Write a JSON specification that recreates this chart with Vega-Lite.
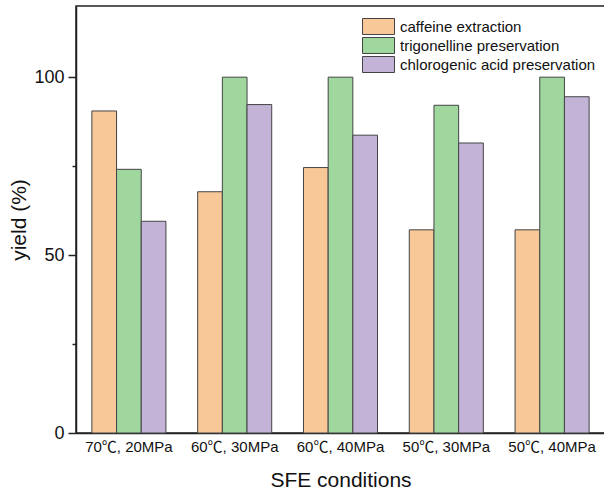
{
  "$schema": "https://vega.github.io/schema/vega-lite/v6.json",
  "width": 529,
  "height": 427,
  "autosize": {"type": "none"},
  "padding": {"left": 76, "top": 6, "right": 0, "bottom": 62},
  "background": "white",
  "config": {
    "font": "Liberation Sans",
    "view": {"stroke": "#222", "strokeWidth": 1.5}
  },
  "data": {
    "values": [
      {"cond": "70℃, 20MPa", "series": "caffeine extraction", "yield": 90.5},
      {"cond": "70℃, 20MPa", "series": "trigonelline preservation", "yield": 74.1},
      {"cond": "70℃, 20MPa", "series": "chlorogenic acid preservation", "yield": 59.5},
      {"cond": "60℃, 30MPa", "series": "caffeine extraction", "yield": 67.8},
      {"cond": "60℃, 30MPa", "series": "trigonelline preservation", "yield": 100},
      {"cond": "60℃, 30MPa", "series": "chlorogenic acid preservation", "yield": 92.3},
      {"cond": "60℃, 40MPa", "series": "caffeine extraction", "yield": 74.6},
      {"cond": "60℃, 40MPa", "series": "trigonelline preservation", "yield": 100},
      {"cond": "60℃, 40MPa", "series": "chlorogenic acid preservation", "yield": 83.7},
      {"cond": "50℃, 30MPa", "series": "caffeine extraction", "yield": 57.1},
      {"cond": "50℃, 30MPa", "series": "trigonelline preservation", "yield": 92.1},
      {"cond": "50℃, 30MPa", "series": "chlorogenic acid preservation", "yield": 81.5},
      {"cond": "50℃, 40MPa", "series": "caffeine extraction", "yield": 57.1},
      {"cond": "50℃, 40MPa", "series": "trigonelline preservation", "yield": 100},
      {"cond": "50℃, 40MPa", "series": "chlorogenic acid preservation", "yield": 94.5}
    ]
  },
  "mark": {"type": "bar", "stroke": "#444", "strokeWidth": 1},
  "encoding": {
    "x": {
      "field": "cond", "type": "nominal", "sort": null,
      "scale": {"paddingInner": 0.3, "paddingOuter": 0.15},
      "axis": {
        "title": "SFE conditions", "titleFontSize": 21, "titleFontWeight": "normal", "titleColor": "#111", "titlePadding": 15,
        "labelAngle": 0, "labelFontSize": 15, "labelFont": "Liberation Sans, Noto Sans CJK SC", "labelColor": "#111", "labelPadding": 6,
        "ticks": false, "domainColor": "#222", "domainWidth": 1.5
      }
    },
    "xOffset": {"field": "series", "type": "nominal", "sort": ["caffeine extraction", "trigonelline preservation", "chlorogenic acid preservation"], "scale": {"paddingInner": 0}},
    "y": {
      "field": "yield", "type": "quantitative",
      "scale": {"domain": [0, 120], "nice": false},
      "axis": {
        "title": "yield (%)", "titleFontSize": 21, "titleFontWeight": "normal", "titleColor": "#111", "titlePadding": 4,
        "values": [0, 25, 50, 75, 100],
        "labelExpr": "datum.value % 50 === 0 ? datum.label : ''",
        "labelFontSize": 18, "labelColor": "#111", "labelPadding": 4,
        "grid": false, "domainColor": "#222", "domainWidth": 1.5,
        "tickColor": "#222", "tickWidth": 1.5,
        "tickSize": {"condition": {"test": "datum.value % 50 === 0", "value": 8}, "value": 4}
      }
    },
    "color": {
      "field": "series", "type": "nominal",
      "sort": ["caffeine extraction", "trigonelline preservation", "chlorogenic acid preservation"],
      "scale": {"domain": ["caffeine extraction", "trigonelline preservation", "chlorogenic acid preservation"], "range": ["#F9C898", "#9FD79F", "#C3B3D7"]},
      "legend": {
        "title": null, "orient": "none", "legendX": 294, "legendY": 12, "padding": 0,
        "symbolType": "M-2,-1H2V1H-2Z", "symbolSize": 256,
        "symbolStrokeColor": "#444", "symbolStrokeWidth": 1, "symbolOpacity": 1,
        "labelFontSize": 15, "labelColor": "#111", "labelOffset": 13, "labelLimit": 300, "rowPadding": -3
      }
    }
  }
}
